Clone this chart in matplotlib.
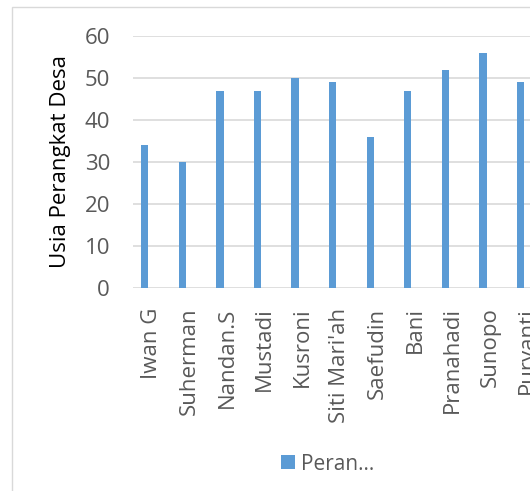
import matplotlib.pyplot as plt
from matplotlib.patches import Rectangle

# data
nama = ['Iwan G', 'Suherman', 'Nandan.S', 'Mustadi', 'Kusroni', "Siti Mari'ah",
        'Saefudin', 'Bani', 'Pranahadi', 'Sunopo', 'Puryanti']
usia = [34, 30, 47, 47, 50, 49, 36, 47, 52, 56, 49]
seri = 'Peran…'

biru = '#5B9BD5'
abu = '#595959'
garis = '#D9D9D9'
fs = 16

plt.rcParams['font.family'] = ['Open Sans', 'DejaVu Sans']

W, H = 530, 491
fig = plt.figure(figsize=(W / 100, H / 100), dpi=100)

# bingkai luar grafik
fig.patches.append(Rectangle((12 / W, -0.1), 1.2, 1 - 7 / H + 0.1,
                             transform=fig.transFigure, fill=False,
                             edgecolor=garis, linewidth=1))

ax = fig.add_axes([133 / W, 1 - 288 / H, 1 - 133 / W, (288 - 36) / H])
x = list(range(len(nama)))
# batang digeser ke kiri dalam tiap kategori
bars = ax.bar([i - 0.19 for i in x], usia, width=0.195, color=biru,
              label=seri, zorder=3)

ax.set_ylim(0, 60)
ax.set_xlim(-0.5, 10.06)
ax.set_yticks(range(0, 61, 10))
ax.set_xticks(x)
ax.set_xticklabels(nama, rotation=90)
ax.grid(axis='y', color=garis, linewidth=1.2, zorder=0)
for s in ax.spines.values():
    s.set_visible(False)
ax.tick_params(axis='both', length=0, labelsize=fs, colors=abu)
ax.tick_params(axis='y', pad=16.5)
ax.tick_params(axis='x', pad=14)
ax.set_ylabel('Usia Perangkat Desa', fontsize=fs, color='#000000', labelpad=10)

fig.legend(handles=[bars], labels=[seri], loc='center left',
           bbox_to_anchor=(281 / W, 1 - 464 / H), frameon=False,
           borderpad=0, borderaxespad=0,
           fontsize=15, labelcolor=abu, handlelength=0.65, handleheight=0.65,
           handletextpad=0.3)

plt.savefig('out.png', dpi=100)
